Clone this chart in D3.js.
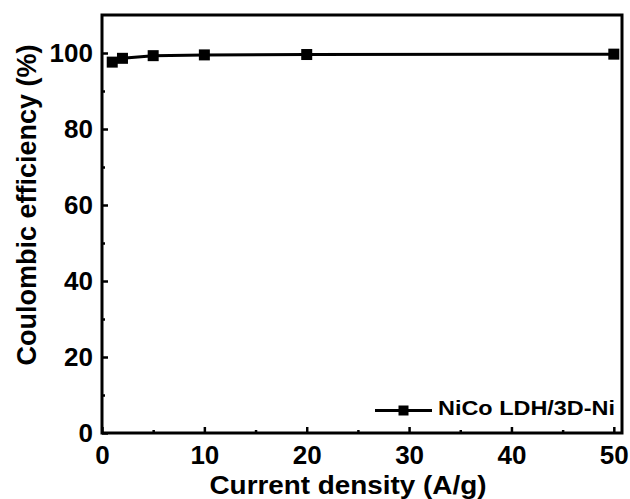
<!DOCTYPE html>
<html>
<head>
<meta charset="utf-8">
<script src="https://cdn.jsdelivr.net/npm/d3@7/dist/d3.min.js"></script>
<style>
  body { margin: 0; background: #fff; }
  svg { display: block; font-family: "Liberation Sans", Arial, sans-serif; font-weight: bold; }
</style>
</head>
<body>
<div id="chart"></div>
<script>
// data
const currentDensity = [1, 2, 5, 10, 20, 50];
const efficiency = [97.6, 98.6, 99.3, 99.5, 99.6, 99.7];
const seriesName = "NiCo LDH/3D-Ni";
const xTicks = [0, 10, 20, 30, 40, 50];
const xMinor = [5, 15, 25, 35, 45];
const yTicks = [0, 20, 40, 60, 80, 100];
const yMinor = [10, 30, 50, 70, 90];

const width = 630, height = 499;
const margin = { top: 15, right: 8, bottom: 66, left: 102 };

const svg = d3.select("#chart").append("svg")
    .attr("width", width)
    .attr("height", height);

const x = d3.scaleLinear()
    .domain([0, 50.8])
    .range([margin.left, width - margin.right]);
const y = d3.scaleLinear()
    .domain([0, 110])
    .range([height - margin.bottom, margin.top]);

// minor ticks
svg.append("g")
    .attr("transform", `translate(0,${y(0)})`)
    .call(d3.axisBottom(x).tickValues(xMinor).tickSize(-3).tickFormat(""))
    .call(g => g.select(".domain").remove())
    .call(g => g.selectAll("line").attr("stroke-width", 2.5));
svg.append("g")
    .attr("transform", `translate(${x(0)},0)`)
    .call(d3.axisLeft(y).tickValues(yMinor).tickSize(-3).tickFormat(""))
    .call(g => g.select(".domain").remove())
    .call(g => g.selectAll("line").attr("stroke-width", 2.5));

// major ticks + labels
svg.append("g")
    .attr("transform", `translate(0,${y(0)})`)
    .call(d3.axisBottom(x).tickValues(xTicks).tickSize(-6).tickPadding(12.5))
    .call(g => g.select(".domain").remove())
    .call(g => g.selectAll("line").attr("stroke-width", 2.5))
    .call(g => g.selectAll("text")
        .attr("font-size", 26).attr("font-weight", "bold")
        .attr("font-family", "'Liberation Sans', Arial, sans-serif")
        .attr("fill", "#000"));
svg.append("g")
    .attr("transform", `translate(${x(0)},0)`)
    .call(d3.axisLeft(y).tickValues(yTicks).tickSize(-6).tickPadding(9))
    .call(g => g.select(".domain").remove())
    .call(g => g.selectAll("line").attr("stroke-width", 2.5))
    .call(g => g.selectAll("text")
        .attr("font-size", 26).attr("font-weight", "bold")
        .attr("font-family", "'Liberation Sans', Arial, sans-serif")
        .attr("fill", "#000"));

// frame
svg.append("rect")
    .attr("x", x(0))
    .attr("y", y(110))
    .attr("width", x(50.8) - x(0))
    .attr("height", y(0) - y(110))
    .attr("fill", "none")
    .attr("stroke", "#000")
    .attr("stroke-width", 3);

// axis titles
svg.append("text")
    .attr("x", (x(0) + x(50.8)) / 2 - 14)
    .attr("y", 494)
    .attr("text-anchor", "middle")
    .attr("font-size", 26.5)
    .attr("textLength", 277)
    .attr("lengthAdjust", "spacingAndGlyphs")
    .text("Current density (A/g)");
svg.append("text")
    .attr("transform", `translate(36,${205}) rotate(-90)`)
    .attr("text-anchor", "middle")
    .attr("font-size", 27)
    .text("Coulombic efficiency (%)");

// series
const line = d3.line()
    .x((d, i) => x(currentDensity[i]))
    .y(d => y(d));
svg.append("path")
    .datum(efficiency)
    .attr("fill", "none")
    .attr("stroke", "#000")
    .attr("stroke-width", 3)
    .attr("d", line);
const ms = 11;
svg.append("g").selectAll("rect")
    .data(efficiency)
    .join("rect")
    .attr("x", (d, i) => x(currentDensity[i]) - ms / 2)
    .attr("y", d => y(d) - ms / 2)
    .attr("width", ms)
    .attr("height", ms)
    .attr("fill", "#000");

// legend
const lg = svg.append("g").attr("transform", "translate(375,410.5)");
lg.append("line")
    .attr("x1", 0).attr("x2", 57)
    .attr("stroke", "#000").attr("stroke-width", 3);
lg.append("rect")
    .attr("x", 28.5 - 5).attr("y", -5)
    .attr("width", 10).attr("height", 10)
    .attr("fill", "#000");
lg.append("text")
    .attr("x", 63)
    .attr("y", 4.5)
    .attr("font-size", 21)
    .attr("textLength", 177)
    .attr("lengthAdjust", "spacingAndGlyphs")
    .text(seriesName);
</script>
</body>
</html>
